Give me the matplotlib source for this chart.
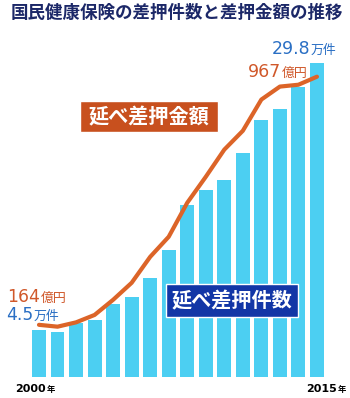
import matplotlib.pyplot as plt
from matplotlib.patches import Rectangle

plt.rcParams['font.family'] = ['Noto Sans CJK JP', 'DejaVu Sans']

years = list(range(2000, 2016))
# 差押件数 (万件)
cases = [4.5, 4.3, 5.1, 5.4, 6.9, 7.6, 9.4, 12.0, 16.3, 17.7, 18.7, 21.2, 24.4, 25.4, 27.5, 29.8]
# 差押金額 (億円)
amount = [164, 158, 172, 196, 245, 300, 384, 449, 559, 643, 731, 792, 893, 935, 941, 967]

W, H = 350, 398
bar_color = '#4ccff2'
line_color = '#dc6428'
orange_txt = '#d0582a'
blue_txt = '#2a6fc4'
navy = '#1c2868'
num_font = ['DejaVu Sans']

fig = plt.figure(figsize=(W / 100, H / 100), dpi=100)
fig.patch.set_facecolor('white')

# axes over the whole figure, limits chosen so the bars land where they are in the picture
ax = fig.add_axes([0, 0, 1, 1])
step = 18.53
x0 = 39
base = 21            # px from bottom for the baseline
px_per_case = 10.55
px_per_amount = 0.309

idx = list(range(len(years)))
ax.bar(idx, cases, width=0.75, color=bar_color, zorder=2)
ax.set_xlim(-x0 / step, (W - x0) / step)
ax.set_ylim(-base / px_per_case, (H - base) / px_per_case)
ax.axis('off')

ax2 = ax.twinx()
ax2.plot(idx, amount, color=line_color, lw=3.0, solid_capstyle='round',
         solid_joinstyle='round', zorder=3)
ax2.set_ylim(-(base + 1.5) / px_per_amount, (H - base - 1.5) / px_per_amount)
ax2.axis('off')


def px(x, y):
    # pixel coordinates from top-left -> figure fraction
    return x / W, 1 - y / H


# title
fig.text(*px(177, 13), '国民健康保険の差押件数と差押金額の推移', ha='center', va='center',
         fontsize=12.6, color=navy, fontweight='bold')

# end labels
fig.text(*px(310, 54), '29.8', ha='right', va='baseline', fontsize=12.5, color=blue_txt, family=num_font)
fig.text(*px(311, 54), '万件', ha='left', va='baseline', fontsize=9.3, color=blue_txt)
fig.text(*px(281, 77), '967', ha='right', va='baseline', fontsize=12.5, color=orange_txt, family=num_font)
fig.text(*px(282, 77), '億円', ha='left', va='baseline', fontsize=9.3, color=orange_txt)

# start labels
fig.text(*px(40, 302), '164', ha='right', va='baseline', fontsize=12.3, color=orange_txt, family=num_font)
fig.text(*px(41, 302), '億円', ha='left', va='baseline', fontsize=9.3, color=orange_txt)
fig.text(*px(33, 320), '4.5', ha='right', va='baseline', fontsize=12.3, color=blue_txt, family=num_font)
fig.text(*px(34, 320), '万件', ha='left', va='baseline', fontsize=9.3, color=blue_txt)

# year labels
fig.text(*px(46, 392), '2000', ha='right', va='baseline', fontsize=8, color='black',
         fontweight='bold', family=num_font)
fig.text(*px(47, 392), '年', ha='left', va='baseline', fontsize=6, color='black', fontweight='bold')
fig.text(*px(337, 392), '2015', ha='right', va='baseline', fontsize=8, color='black',
         fontweight='bold', family=num_font)
fig.text(*px(338, 392), '年', ha='left', va='baseline', fontsize=6, color='black', fontweight='bold')

# series name boxes
for (bx, by, bw, bh, fc, label) in [(80, 101, 138, 31, '#c8501e', '延べ差押金額'),
                                    (166, 284, 132, 33, '#1236a6', '延べ差押件数')]:
    fx, fy = px(bx, by + bh)
    fig.patches.append(Rectangle((fx, fy), bw / W, bh / H, transform=fig.transFigure,
                                 facecolor=fc, edgecolor='white', lw=1, zorder=5))
    fig.text(*px(bx + bw / 2, by + bh / 2), label, ha='center', va='center',
             fontsize=14.5, color='white', fontweight='bold', zorder=6)

fig.savefig('out.png', dpi=100, facecolor='white')
